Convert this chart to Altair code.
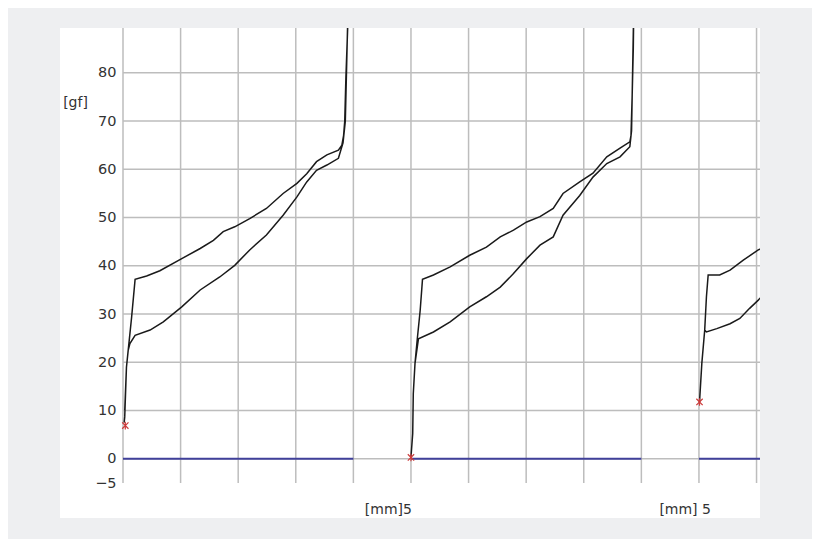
import altair as alt
import pandas as pd

# ---------------- data (mm, gf) ----------------
x_grid = list(range(0, 12))
y_grid = [0, 10, 20, 30, 40, 50, 60, 70, 80]
y_labels = [-5, 0, 10, 20, 30, 40, 50, 60, 70, 80]

# cycle 1
c1_up_x = [0.02, 0.03, 0.06, 0.09, 0.15, 0.21, 0.41, 0.64, 1.02, 1.34, 1.57, 1.74, 1.94, 2.20, 2.49,
           2.78, 3.02, 3.19, 3.36, 3.54, 3.74, 3.80, 3.83, 3.85, 3.87, 3.90, 3.91]
c1_up_y = [7.5, 8.7, 19.0, 22.5, 29.4, 37.2, 37.9, 39.0, 41.5, 43.6, 45.3, 47.1, 48.1, 49.8, 51.9,
           55.0, 57.1, 59.1, 61.6, 63.0, 64.0, 65.0, 67.0, 70.0, 79.0, 89.0, 95.0]
c1_dn_x = [3.91, 3.86, 3.82, 3.74, 3.54, 3.36, 3.19, 3.02, 2.78, 2.49, 2.20, 1.94, 1.68, 1.34, 1.02,
           0.70, 0.47, 0.21, 0.12, 0.09, 0.06, 0.03]
c1_dn_y = [95.0, 70.0, 65.5, 62.3, 60.9, 59.8, 57.4, 54.3, 50.5, 46.4, 43.3, 40.1, 37.7, 35.0, 31.5,
           28.4, 26.7, 25.6, 23.9, 22.5, 19.0, 10.0]

# cycle 2
c2_up_x = [5.00, 5.03, 5.04, 5.07, 5.11, 5.16, 5.20, 5.39, 5.68, 6.02, 6.31, 6.55, 6.78, 7.01, 7.24,
           7.47, 7.64, 7.93, 8.16, 8.40, 8.63, 8.80, 8.82, 8.84, 8.86, 8.87]
c2_up_y = [0.4, 5.2, 13.5, 19.8, 24.9, 30.8, 37.2, 38.1, 39.8, 42.2, 43.9, 46.0, 47.4, 49.1, 50.2,
           51.9, 55.0, 57.4, 59.2, 62.6, 64.4, 65.7, 67.0, 75.0, 85.0, 95.0]
c2_dn_x = [8.87, 8.83, 8.80, 8.63, 8.40, 8.16, 7.93, 7.64, 7.47, 7.24, 7.01, 6.78, 6.55, 6.31, 6.02,
           5.68, 5.39, 5.13, 5.07, 5.04]
c2_dn_y = [95.0, 68.0, 64.7, 62.6, 61.2, 58.4, 54.6, 50.5, 46.0, 44.3, 41.5, 38.4, 35.6, 33.6, 31.5,
           28.4, 26.3, 24.9, 19.8, 13.5]

# cycle 3
c3_up_x = [10.01, 10.05, 10.10, 10.13, 10.16, 10.36, 10.54, 10.77, 11.03, 11.23]
c3_up_y = [11.8, 19.8, 26.7, 33.6, 38.1, 38.1, 39.1, 41.2, 43.3, 44.5]
c3_dn_x = [11.23, 11.03, 10.88, 10.71, 10.54, 10.31, 10.13, 10.10, 10.05]
c3_dn_y = [35.5, 32.9, 31.2, 29.1, 28.0, 27.0, 26.3, 26.7, 19.8]

start_x = [0.04, 5.00, 10.01]
start_y = [6.9, 0.3, 11.8]

zero_start = [0, 5, 10]
zero_end = [4, 9, 12]

x_tick_pos = [5, 10]
x_tick_text = ["[mm]5", "[mm] 5"]

# ---------------- tables ----------------
rows = []
for cyc, (ux, uy, dxs, dys) in enumerate([(c1_up_x, c1_up_y, c1_dn_x, c1_dn_y),
                                          (c2_up_x, c2_up_y, c2_dn_x, c2_dn_y),
                                          (c3_up_x, c3_up_y, c3_dn_x, c3_dn_y)]):
    px = ux + dxs
    py = uy + dys
    for i, (a, b) in enumerate(zip(px, py)):
        rows.append({"cycle": cyc, "i": i, "mm": a, "gf": b})
curve_df = pd.DataFrame(rows)

start_df = pd.DataFrame({"mm": start_x, "gf": start_y})
zero_df = pd.DataFrame({"a": zero_start, "b": zero_end, "gf": [0, 0, 0]})
vgrid_df = pd.DataFrame({"mm": x_grid})
hgrid_df = pd.DataFrame({"gf": y_grid})
lab1_df = pd.DataFrame({"mm": [x_tick_pos[0]], "t": [x_tick_text[0]], "gf": [-5]})
lab2_df = pd.DataFrame({"mm": [x_tick_pos[1]], "t": [x_tick_text[1]], "gf": [-5]})

W, H = 637, 455
XS = alt.Scale(domain=[0, 11.06], nice=False, zero=False)
YS = alt.Scale(domain=[-5, 89.3], nice=False, zero=False)
FONT = "DejaVu Sans"
TXT = "#333333"
GRID = "#bdbdbd"

panel = alt.Chart(pd.DataFrame({"k": [0]})).mark_rect(color="white").encode(
    x=alt.value(-63), x2=alt.value(W), y=alt.value(0), y2=alt.value(490)
)

vgrid = alt.Chart(vgrid_df).mark_rule(color=GRID, strokeWidth=1.5).encode(
    x=alt.X("mm:Q", scale=XS, axis=None),
    y=alt.value(0), y2=alt.value(H),
)

hgrid = alt.Chart(hgrid_df).mark_rule(color=GRID, strokeWidth=1.5).encode(
    y=alt.Y("gf:Q", scale=YS,
            axis=alt.Axis(values=y_labels, grid=False, domain=False, ticks=False, tickSize=0,
                          labelPadding=7, labelFont=FONT, labelFontSize=14.5, labelColor=TXT,
                          title="[gf]", titleAngle=0, titleX=-48, titleY=74, titleAlign="center",
                          titleBaseline="middle", titleFont=FONT, titleFontSize=14,
                          titleFontWeight="normal", titleColor=TXT, zindex=1)),
    x=alt.value(0), x2=alt.value(W),
)

zero_line = alt.Chart(zero_df).mark_rule(color="#40409a", strokeWidth=2, clip=True).encode(
    x=alt.X("a:Q", scale=XS), x2="b:Q", y=alt.Y("gf:Q", scale=YS)
)

curves = alt.Chart(curve_df).mark_line(color="#1a1a1a", strokeWidth=1.5, clip=True,
                                       strokeJoin="miter").encode(
    x=alt.X("mm:Q", scale=XS),
    y=alt.Y("gf:Q", scale=YS),
    detail="cycle:N",
    order="i:Q",
)

markers = alt.Chart(start_df).mark_point(
    shape="M-1,-1L1,1M-1,1L1,-1M0,-1.2L0,1.2", filled=False, color="#cc3b3b",
    strokeWidth=1.2, size=40, opacity=1
).encode(x=alt.X("mm:Q", scale=XS), y=alt.Y("gf:Q", scale=YS))

lab1 = alt.Chart(lab1_df).mark_text(align="right", baseline="middle", dx=1, dy=27,
                                    font=FONT, fontSize=14, color=TXT).encode(
    x=alt.X("mm:Q", scale=XS), y=alt.Y("gf:Q", scale=YS), text="t:N")
lab2 = alt.Chart(lab2_df).mark_text(align="right", baseline="middle", dx=12, dy=27,
                                    font=FONT, fontSize=14, color=TXT).encode(
    x=alt.X("mm:Q", scale=XS), y=alt.Y("gf:Q", scale=YS), text="t:N")

chart = alt.layer(panel, vgrid, hgrid, zero_line, curves, markers, lab1, lab2).properties(
    width=W, height=H,
    autosize=alt.AutoSizeParams(type="none"),
    padding={"left": 115, "top": 20, "right": 52, "bottom": 56},
    background="#eeeff1",
).configure_view(strokeWidth=0, fill=None)

chart.save("out.html", embed_options={"renderer": "svg", "actions": False})
